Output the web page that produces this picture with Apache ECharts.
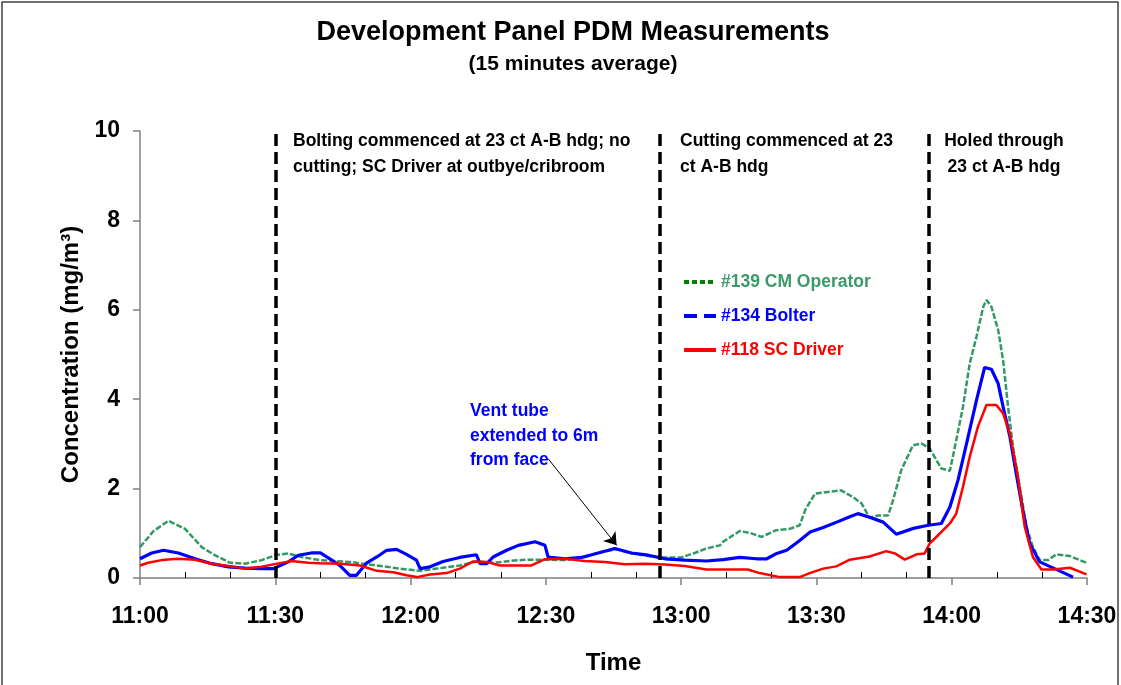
<!DOCTYPE html>
<html>
<head>
<meta charset="utf-8">
<title>Development Panel PDM Measurements</title>
<script src="https://cdn.jsdelivr.net/npm/echarts@6/dist/echarts.min.js"></script>
<style>
  html, body { margin: 0; padding: 0; background: #fff; }
  #chart { width: 1121px; height: 685px; }
</style>
</head>
<body>
<div id="chart"></div>
<script>
  // minutes after 11:00
  const tickLabels = ['11:00', '11:30', '12:00', '12:30', '13:00', '13:30', '14:00', '14:30'];
  const eventTimes = [30, 115.3, 175];

  const cmTimes = [0, 3, 6.3, 10, 13.7, 16.6, 20, 23.3, 27, 30, 32.8, 35.8, 40, 46.5, 49.5, 54.7, 57.6, 62, 65.8, 70.9,
    74.6, 78.3, 82, 85.3, 89.8, 94.2, 98.6, 102.3, 105.7, 109, 112.7, 115.6, 120, 123, 125.6, 128.6, 129.3, 133, 135.2,
    137.8, 141.1, 144.1, 146.3, 147.5, 149.7, 153, 155.5, 158.1, 160, 161.8, 163.7, 165.9, 167, 168.8, 171.4, 173.3,
    175.1, 177.7, 179.6, 181, 182.5, 184, 185.5, 187, 187.7, 188.8, 190.3, 191.4, 192.5, 193.6, 195.1, 196.6, 198,
    199.5, 201.4, 203.2, 206.2, 209.9];
  const cmValues = [0.69, 1.05, 1.28, 1.1, 0.69, 0.51, 0.34, 0.32, 0.40, 0.51, 0.55, 0.47, 0.40, 0.36, 0.32, 0.25, 0.21,
    0.16, 0.21, 0.28, 0.37, 0.34, 0.38, 0.41, 0.41, 0.40, 0.47, 0.58, 0.64, 0.55, 0.49, 0.46, 0.46, 0.56, 0.66, 0.73,
    0.81, 1.05, 1.01, 0.92, 1.07, 1.10, 1.18, 1.52, 1.89, 1.93, 1.96, 1.81, 1.67, 1.35, 1.40, 1.40, 1.74, 2.41, 2.97,
    3.01, 2.90, 2.45, 2.40, 3.08, 3.83, 4.80, 5.40, 6.07, 6.22, 6.07, 5.55, 4.87, 3.83, 2.93, 2.04, 1.14, 0.69, 0.40,
    0.40, 0.53, 0.49, 0.34];

  const bolterTimes = [0, 2.6, 5.2, 8.5, 12.2, 15.9, 19.6, 23.3, 27, 29.6, 32.9, 35.1, 38, 40, 42.1, 44.3, 46.5, 48, 50.3,
    52.5, 54.7, 56.9, 59.1, 61.3, 62.1, 64.3, 67.2, 70.9, 74.6, 75.4, 76.9, 78.3, 81.3, 83.9, 87.6, 89.8, 90.5, 94.2,
    97.9, 101.6, 105.3, 109, 112.7, 116.4, 120.8, 125.6, 129.3, 133, 136.7, 139, 141.2, 143.4, 146.3, 148.6, 151.5,
    154.5, 157.4, 159.2, 161.8, 164.8, 167.7, 171.5, 174.8, 177.7, 179.6, 181.4, 183.3, 185.5, 187.3, 188.8, 190.3,
    191.4, 192.9, 194.3, 195.9, 197.3, 199.5, 201.7, 203.9, 206.9];
  const bolterValues = [0.43, 0.56, 0.62, 0.56, 0.43, 0.32, 0.25, 0.22, 0.21, 0.21, 0.36, 0.51, 0.56, 0.56, 0.43, 0.28,
    0.06, 0.06, 0.34, 0.47, 0.62, 0.64, 0.53, 0.40, 0.21, 0.25, 0.37, 0.46, 0.52, 0.32, 0.32, 0.47, 0.62, 0.73, 0.81,
    0.73, 0.47, 0.43, 0.46, 0.56, 0.66, 0.56, 0.51, 0.43, 0.40, 0.38, 0.41, 0.46, 0.43, 0.43, 0.55, 0.62, 0.84, 1.03,
    1.13, 1.25, 1.37, 1.44, 1.36, 1.25, 0.98, 1.11, 1.18, 1.22, 1.59, 2.19, 3.01, 3.98, 4.71, 4.67, 4.35, 3.83, 3.16,
    2.34, 1.44, 0.77, 0.36, 0.26, 0.16, 0.02];

  const driverTimes = [0, 1.8, 4.8, 8.5, 12.2, 15.9, 19.6, 23.3, 27, 29.9, 33.6, 37.3, 40, 44.3, 48.8, 52.5, 56.2, 59.1,
    61.4, 64.3, 68, 70.9, 73.9, 76.9, 79.8, 86.8, 89.8, 94.2, 98.6, 103.1, 107.5, 112, 116.4, 120.8, 125.6, 129.3, 134.8,
    137.4, 141.9, 146.3, 148.5, 151.5, 154.4, 157.4, 161.8, 165.5, 167.4, 169.6, 172.2, 174, 175.1, 177.3, 179.6, 181,
    182.5, 184, 185.8, 187.7, 189.9, 191.4, 192.9, 194.7, 196.2, 198, 199.9, 202.5, 206.2, 209.9];
  const driverValues = [0.28, 0.34, 0.40, 0.43, 0.41, 0.32, 0.27, 0.21, 0.25, 0.31, 0.38, 0.34, 0.33, 0.32, 0.28, 0.16,
    0.13, 0.06, 0.02, 0.08, 0.11, 0.21, 0.37, 0.36, 0.28, 0.28, 0.42, 0.43, 0.38, 0.36, 0.31, 0.32, 0.30, 0.27, 0.19,
    0.19, 0.19, 0.11, 0.02, 0.02, 0.11, 0.21, 0.26, 0.41, 0.48, 0.60, 0.55, 0.41, 0.53, 0.55, 0.77, 0.99, 1.22, 1.44,
    2.04, 2.71, 3.38, 3.87, 3.87, 3.68, 3.23, 2.26, 1.14, 0.47, 0.19, 0.19, 0.23, 0.08];

  function pairs(times, values) {
    return times.map(function (t, i) { return [t, values[i]]; });
  }

  const FONT = 'Liberation Sans, Arial, sans-serif';
  const minorTicks = [];
  for (let m = 10; m < 210; m += 10) {
    if (m % 30 !== 0) minorTicks.push(m);
  }

  let myChart = echarts.init(document.getElementById('chart'));
  myChart.setOption({
    animation: false,
    title: {
      text: 'Development Panel PDM Measurements',
      subtext: '(15 minutes average)',
      left: 568,
      top: 14,
      textAlign: 'center',
      itemGap: 8,
      textStyle: { fontFamily: FONT, fontWeight: 'bold', fontSize: 27, color: '#000' },
      subtextStyle: { fontFamily: FONT, fontWeight: 'bold', fontSize: 21, color: '#000' }
    },
    legend: {
      orient: 'vertical',
      left: 677,
      top: 268,
      itemWidth: 32,
      itemHeight: 14,
      itemGap: 16,
      selectedMode: false,
      textStyle: { fontFamily: FONT, fontWeight: 'bold', fontSize: 17.5 },
      data: [
        { name: '#139 CM Operator', itemStyle: { opacity: 0 }, lineStyle: { color: '#008000', type: [5, 3], width: 4 }, textStyle: { color: '#3a9a68' } },
        { name: '#134 Bolter', itemStyle: { opacity: 0 }, lineStyle: { color: '#0000ff', type: [13, 7], width: 4 }, textStyle: { color: '#0000ff' } },
        { name: '#118 SC Driver', itemStyle: { opacity: 0 }, lineStyle: { color: '#ff0000', width: 4 }, textStyle: { color: '#ff0000' } }
      ]
    },
    grid: { left: 140, right: 34, top: 131, bottom: 107 },
    xAxis: [
      {
        type: 'value',
        min: 0,
        max: 210,
        interval: 30,
        name: 'Time',
        nameLocation: 'middle',
        nameGap: 73,
        nameTextStyle: { fontFamily: FONT, fontWeight: 'bold', fontSize: 24, color: '#000' },
        axisLine: { lineStyle: { color: '#808080', width: 1.5 } },
        axisTick: { length: 7, lineStyle: { color: '#808080', width: 1.5 } },
        axisLabel: {
          margin: 27,
          fontFamily: FONT, fontWeight: 'bold', fontSize: 23, color: '#000',
          formatter: function (v) { return tickLabels[Math.round(v / 30)]; }
        },
        splitLine: { show: false }
      },
      {
        type: 'value',
        min: 0,
        max: 210,
        interval: 10,
        position: 'bottom',
        axisLine: { show: false },
        axisTick: { inside: true, length: 6, customValues: minorTicks, lineStyle: { color: '#000', width: 1 } },
        axisLabel: { show: false },
        splitLine: { show: false }
      }
    ],
    yAxis: {
      type: 'value',
      min: 0,
      max: 10,
      interval: 2,
      name: 'Concentration (mg/m³)',
      nameLocation: 'middle',
      nameGap: 52,
      nameTextStyle: { fontFamily: FONT, fontWeight: 'bold', fontSize: 24, color: '#000' },
      axisLine: { show: true, lineStyle: { color: '#808080', width: 1.5 } },
      axisTick: { show: true, length: 7, lineStyle: { color: '#808080', width: 1.5 } },
      axisLabel: { margin: 20, fontFamily: FONT, fontWeight: 'bold', fontSize: 23, color: '#000' },
      splitLine: { show: false }
    },
    series: [
      {
        name: '#139 CM Operator',
        type: 'line',
        symbol: 'none',
        lineStyle: { color: '#339966', width: 2.5, type: [6, 2] },
        itemStyle: { color: '#339966' },
        data: pairs(cmTimes, cmValues)
      },
      {
        name: '#134 Bolter',
        type: 'line',
        symbol: 'none',
        lineStyle: { color: '#0000ff', width: 3.2 },
        itemStyle: { color: '#0000ff' },
        data: pairs(bolterTimes, bolterValues),
        markLine: {
          silent: true,
          symbol: ['none', 'arrow'],
          symbolSize: 12,
          label: { show: false },
          lineStyle: { color: '#000', width: 1, type: 'solid' },
          data: [[{ coord: [90.5, 2.67] }, { coord: [105.7, 0.73] }]]
        }
      },
      {
        name: '#118 SC Driver',
        type: 'line',
        symbol: 'none',
        lineStyle: { color: '#ff0000', width: 2.5 },
        itemStyle: { color: '#ff0000' },
        data: pairs(driverTimes, driverValues),
        markLine: {
          silent: true,
          symbol: ['none', 'none'],
          label: { show: false },
          lineStyle: { color: '#000', width: 3.5, type: [12, 6] },
          data: eventTimes.map(function (t) { return { xAxis: t }; })
        }
      }
    ],
    graphic: [
      {
        type: 'rect',
        shape: { x: 2, y: 2, width: 1116, height: 700 },
        style: { fill: 'none', stroke: '#444', lineWidth: 1.5 },
        silent: true
      },
      {
        type: 'text', x: 293, y: 128,
        style: { text: 'Bolting commenced at 23 ct A-B hdg; no\ncutting; SC Driver at outbye/cribroom', font: 'bold 17.5px ' + FONT, fill: '#000', lineHeight: 26, verticalAlign: 'top' }
      },
      {
        type: 'text', x: 680, y: 128,
        style: { text: 'Cutting commenced at 23\nct A-B hdg', font: 'bold 17.5px ' + FONT, fill: '#000', lineHeight: 26, verticalAlign: 'top' }
      },
      {
        type: 'text', x: 1004, y: 128,
        style: { text: 'Holed through\n23 ct A-B hdg', font: 'bold 17.5px ' + FONT, fill: '#000', lineHeight: 26, align: 'center', verticalAlign: 'top' }
      },
      {
        type: 'text', x: 470, y: 399,
        style: { text: 'Vent tube\nextended to 6m\nfrom face', font: 'bold 17.5px ' + FONT, fill: '#0000ff', lineHeight: 24.5, verticalAlign: 'top' }
      }
    ]
  });
  window.onresize = function () {
    myChart.resize();
  };
</script>
</body>
</html>
